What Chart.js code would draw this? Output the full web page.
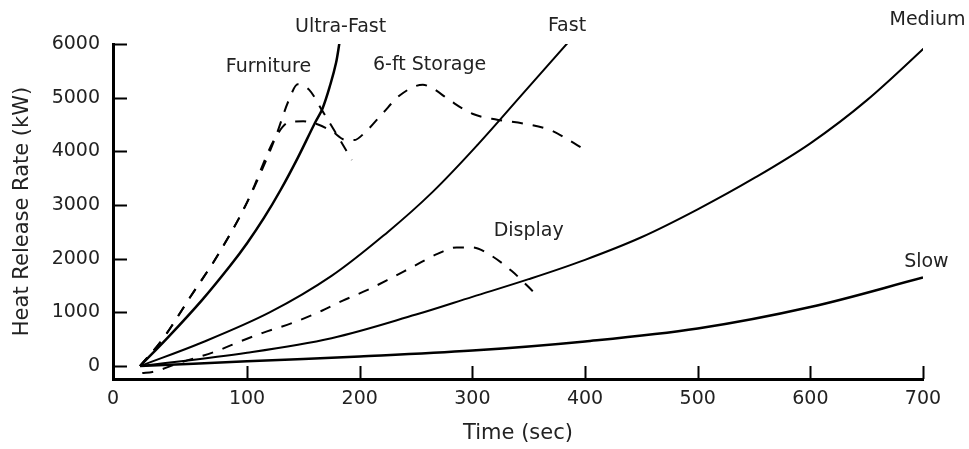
<!DOCTYPE html>
<html>
<head>
<meta charset="utf-8">
<title>Heat Release Rate</title>
<script src="https://cdn.jsdelivr.net/npm/chart.js@4.4.1/dist/chart.umd.min.js"></script>
<style>
    html, body { margin: 0; padding: 0; background: #fff; }
</style>
</head>
<body>
<canvas id="hrr-chart" width="969" height="449"></canvas>
<script>
// values: time (s) and heat release rate (kW)
const ultraFastTime = [5, 30, 60, 85, 100, 115, 130, 145, 160, 167, 174, 179, 182];
const ultraFastHrr = [0, 540, 1230, 1870, 2290, 2760, 3290, 3880, 4520, 4800, 5250, 5650, 6020];

const fastTime = [5, 60, 120, 175, 225, 265, 305, 345, 385];
const fastHrr = [0, 440, 1000, 1680, 2500, 3250, 4130, 5080, 6030];

const mediumTime = [5, 100, 175, 250, 300, 350, 400, 450, 500, 550, 600, 650, 709];
const mediumHrr = [0, 250, 520, 960, 1290, 1620, 1980, 2400, 2920, 3500, 4150, 4950, 6080];

const slowTime = [5, 100, 200, 300, 400, 500, 600, 700];
const slowHrr = [0, 90, 180, 290, 460, 700, 1100, 1650];

const furnitureTime = [5, 25, 50, 75, 100, 125, 137, 145, 155, 167, 180, 193];
const furnitureHrr = [0, 500, 1300, 2100, 3050, 4250, 4950, 5250, 5150, 4750, 4300, 3840];

const storageTime = [5, 25, 50, 75, 100, 125, 138, 150, 163, 175, 188, 195, 205, 220, 236, 256, 265, 280, 300, 322, 345, 370, 388, 396];
const storageHrr = [0, 500, 1300, 2100, 3050, 4250, 4550, 4560, 4500, 4380, 4210, 4210, 4360, 4700, 5050, 5240, 5170, 4950, 4700, 4590, 4520, 4390, 4180, 4080];

const displayTime = [7, 16, 40, 73, 94, 114, 141, 162, 185, 207, 227, 247, 269, 286, 300, 315, 335, 357];
const displayHrr = [-130, -110, 60, 280, 460, 620, 810, 990, 1220, 1420, 1630, 1850, 2090, 2210, 2210, 2080, 1770, 1325];

const xTickValues = [0, 100, 200, 300, 400, 500, 600, 700];
const xTickLabels = ['0', '100', '200', '300', '400', '500', '600', '700'];
const yTickValues = [0, 1000, 2000, 3000, 4000, 5000, 6000];

// curve names, written next to the curves (anchor in data units)
const curveLabels = [
    { text: 'Ultra-Fast', x: 183, y: 6317 },
    { text: 'Fast', x: 384, y: 6335 },
    { text: 'Medium', x: 704, y: 6447 },
    { text: 'Slow', x: 703, y: 1938 },
    { text: 'Furniture', x: 119, y: 5571 },
    { text: '6-ft Storage', x: 262, y: 5608 },
    { text: 'Display', x: 350, y: 2515 },
];

const timeMin = -19;
const timeMax = 700;
const hrrMin = -240;
const hrrMax = 6000;

function toPoints(xs, ys) {
    return xs.map((x, i) => ({ x: x, y: ys[i] }));
}

function curve(label, xs, ys, width, dashed) {
    const ds = {
        label: label,
        data: toPoints(xs, ys),
        borderColor: '#000',
        borderWidth: width,
        borderDash: dashed ? [11, 10] : [],
        pointRadius: 0,
        fill: false,
    };
    // smooth growth curves, dashed test curves keep their peaks
    if (dashed) ds.cubicInterpolationMode = 'monotone';
    else ds.tension = 0.35;
    return ds;
}

const textFont = '19px "DejaVu Sans"';

// inward tick marks and the curve names
const figureMarks = {
    id: 'figureMarks',
    afterDraw(chart) {
        const { ctx, scales: { x, y } } = chart;
        ctx.save();
        ctx.strokeStyle = '#000';
        ctx.lineWidth = 2;
        ctx.beginPath();
        yTickValues.forEach(v => {
            const py = Math.round(y.getPixelForValue(v)) + 0.5;
            ctx.moveTo(x.left, py);
            ctx.lineTo(x.left + 14, py);
        });
        xTickValues.forEach(v => {
            if (v === 0) return;
            const px = Math.round(x.getPixelForValue(v)) + 0.5;
            ctx.moveTo(px, y.bottom);
            ctx.lineTo(px, y.bottom - 13);
        });
        ctx.stroke();

        ctx.fillStyle = '#222';
        ctx.font = textFont;
        ctx.textAlign = 'center';
        ctx.textBaseline = 'middle';
        curveLabels.forEach(l => {
            ctx.fillText(l.text, x.getPixelForValue(l.x), y.getPixelForValue(l.y));
        });
        ctx.restore();
    }
};

new Chart(document.getElementById('hrr-chart'), {
    type: 'line',
    data: {
        datasets: [
            curve('Ultra-Fast', ultraFastTime, ultraFastHrr, 2.5, false),
            curve('Fast', fastTime, fastHrr, 2, false),
            curve('Medium', mediumTime, mediumHrr, 2, false),
            curve('Slow', slowTime, slowHrr, 2.5, false),
            curve('Furniture', furnitureTime, furnitureHrr, 2, true),
            curve('6-ft Storage', storageTime, storageHrr, 2, true),
            curve('Display', displayTime, displayHrr, 2, true),
        ]
    },
    options: {
        responsive: false,
        animation: false,
        devicePixelRatio: 1,
        layout: { padding: { top: 44, right: 46, bottom: 0, left: 0 } },
        plugins: {
            legend: { display: false },
            tooltip: { enabled: false },
        },
        scales: {
            x: {
                type: 'linear',
                min: timeMin,
                max: timeMax,
                afterBuildTicks: (scale) => {
                    scale.ticks = xTickValues.map(v => ({ value: v === 0 ? scale.min : v }));
                },
                afterFit: (scale) => { scale.height = 70; },
                grid: { display: false, drawTicks: false },
                border: { display: true, color: '#000', width: 3 },
                ticks: {
                    padding: 9,
                    color: '#222',
                    font: { family: 'DejaVu Sans', size: 19 },
                    maxRotation: 0,
                    autoSkip: false,
                    callback: (value, index) => xTickLabels[index],
                },
                title: {
                    display: true,
                    text: 'Time (sec)',
                    color: '#222',
                    font: { family: 'DejaVu Sans', size: 21 },
                    padding: { top: 0, bottom: 3 },
                },
            },
            y: {
                type: 'linear',
                min: hrrMin,
                max: hrrMax,
                afterBuildTicks: (scale) => {
                    scale.ticks = yTickValues.map(v => ({ value: v }));
                },
                afterFit: (scale) => { scale.width = 113; },
                grid: { display: false, drawTicks: false },
                border: { display: true, color: '#000', width: 3 },
                ticks: {
                    padding: 13,
                    color: '#222',
                    font: { family: 'DejaVu Sans', size: 19 },
                    autoSkip: false,
                    callback: (value) => String(value),
                },
                title: {
                    display: true,
                    text: 'Heat Release Rate (kW)',
                    color: '#222',
                    font: { family: 'DejaVu Sans', size: 21 },
                    padding: { top: 10, bottom: 0 },
                },
            },
        },
    },
    plugins: [figureMarks],
});
</script>
</body>
</html>
